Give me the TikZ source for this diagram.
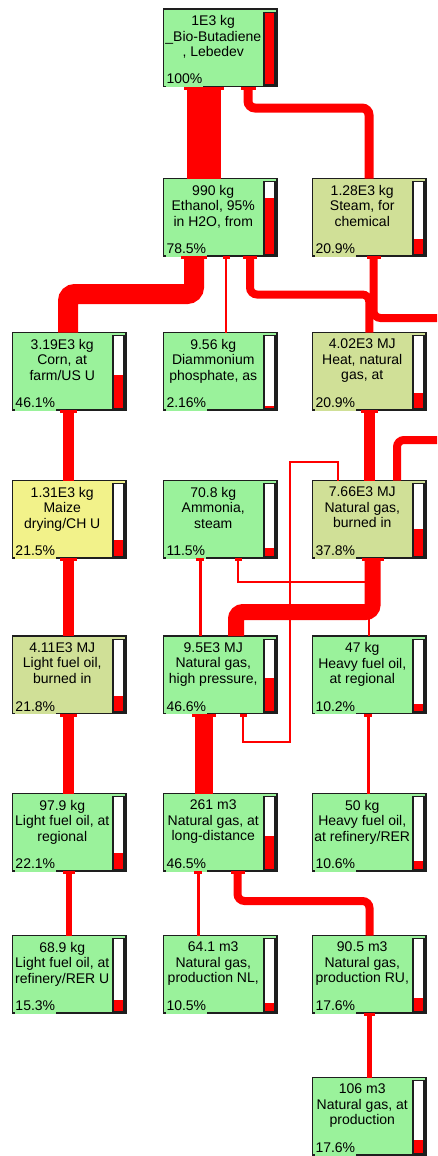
\documentclass[tikz,border=0pt]{standalone}
\usepackage{fontspec}
\setmainfont{Liberation Sans}
\usetikzlibrary{arrows.meta}
\definecolor{bgreen}{RGB}{154,242,155}
\definecolor{btan}{RGB}{208,224,151}
\definecolor{byellow}{RGB}{242,242,138}
\definecolor{frame}{RGB}{30,30,30}
\tikzset{
 pbox/.style={draw=frame, line width=1.6pt, minimum width=113.5pt, minimum height=77.5pt, inner sep=0pt, outer sep=0pt},
 ptext/.style={font=\fontsize{14}{15.5}\selectfont, align=center, inner sep=0pt, text=black},
 ppct/.style={font=\fontsize{14}{15.5}\selectfont, inner xsep=1pt, inner ysep=0pt, text depth=3.3pt, anchor=base west, text=black},
 fl/.style={draw=red, line width=#1pt, rounded corners=7pt, -{Rectangle[length=3pt, width=6pt 1, line width=0pt]}},
 tfl/.style={draw=red, line width=#1pt, -{Rectangle[length=3pt, width=5pt 1, line width=0pt]}},
}
\newcommand\procbox[7]{%
  \node[pbox, fill=#4] (#1) at (#2,#3) {};
  \draw[frame, line width=1.3pt, fill=white] ([xshift=-13pt,yshift=-3.2pt]#1.north east) rectangle ([xshift=-2pt,yshift=1.6pt]#1.south east);
  \fill[red] ([xshift=-12.35pt,yshift=2.25pt]#1.south east) rectangle ++(9.7,-0.714*#5);
  \node[ptext, anchor=north] at ([xshift=-7pt,yshift=-6.5pt]#1.north) {#6};
  \node[ppct, fill=#4] at ([xshift=1.8pt,yshift=2.5pt]#1.south west) {#7};
}
\begin{document}
\begin{tikzpicture}[x=1pt, y=-1pt]
\fill[white] (0,0) rectangle (437,1156);
\useasboundingbox (0,0) rectangle (437,1156);
% row 1
\procbox{but}{220.25}{47.75}{bgreen}{100}{1E3 kg\\\_Bio-Butadiene\\, Lebedev}{100\%}
% row 2
\procbox{eth}{220.25}{217.25}{bgreen}{78.5}{990 kg\\Ethanol, 95\%\\in H2O, from}{78.5\%}
\procbox{steam}{369.25}{217.25}{btan}{20.9}{1.28E3 kg\\Steam, for\\chemical}{20.9\%}
% row 3
\procbox{corn}{69.25}{371.25}{bgreen}{46.1}{3.19E3 kg\\Corn, at\\farm/US U}{46.1\%}
\procbox{dap}{220.25}{371.25}{bgreen}{2.16}{9.56 kg\\Diammonium\\phosphate, as}{2.16\%}
\procbox{heat}{369.25}{371.25}{btan}{20.9}{4.02E3 MJ\\Heat, natural\\gas, at}{20.9\%}
% row 4
\procbox{maize}{69.25}{519.25}{byellow}{21.5}{1.31E3 kg\\Maize\\drying/CH U}{21.5\%}
\procbox{amm}{220.25}{519.25}{bgreen}{11.5}{70.8 kg\\Ammonia,\\steam}{11.5\%}
\procbox{ngb}{369.25}{519.25}{btan}{37.8}{7.66E3 MJ\\Natural gas,\\burned in}{37.8\%}
% row 5
\procbox{lfob}{69.25}{674.75}{btan}{21.8}{4.11E3 MJ\\Light fuel oil,\\burned in}{21.8\%}
\procbox{nghp}{220.25}{674.75}{bgreen}{46.6}{9.5E3 MJ\\Natural gas,\\high pressure,}{46.6\%}
\procbox{hfo}{369.25}{674.75}{bgreen}{10.2}{47 kg\\Heavy fuel oil,\\at regional}{10.2\%}
% row 6
\procbox{lfor}{69.25}{832.25}{bgreen}{22.1}{97.9 kg\\Light fuel oil, at\\regional}{22.1\%}
\procbox{ngld}{220.25}{832.25}{bgreen}{46.5}{261 m3\\Natural gas, at\\long-distance}{46.5\%}
\procbox{hfor}{369.25}{832.25}{bgreen}{10.6}{50 kg\\Heavy fuel oil,\\at refinery/RER}{10.6\%}
% row 7
\procbox{lforef}{69.25}{974.25}{bgreen}{15.3}{68.9 kg\\Light fuel oil, at\\refinery/RER U}{15.3\%}
\procbox{ngnl}{220.25}{974.25}{bgreen}{10.5}{64.1 m3\\Natural gas,\\production NL,}{10.5\%}
\procbox{ngru}{369.25}{974.25}{bgreen}{17.6}{90.5 m3\\Natural gas,\\production RU,}{17.6\%}
% row 8
\procbox{ngprod}{369.25}{1116.25}{bgreen}{17.6}{106 m3\\Natural gas, at\\production}{17.6\%}
% off-picture ends
\coordinate (offA) at (437,318);
\coordinate (offB) at (437,440);
% connectors
\draw[fl=34] ([xshift=-16.25pt]eth.north) -- ([xshift=-16.25pt]but.south);
\draw[fl=9] ([xshift=-0.25pt]steam.north) -- ++(0,-70.5) -| ([xshift=27.75pt]but.south);
\draw[fl=20] ([xshift=-1.25pt]corn.north) -- ++(0,-38.5) -| ([xshift=-26.25pt]eth.south);
\draw[tfl=2] ([xshift=5.75pt]dap.north) -- ([xshift=5.75pt]eth.south);
\draw[fl=8] (heat.north) -- ++(0,-38) -| ([xshift=29.75pt]eth.south);
\draw[fl=8] (offA) -| ([xshift=4.25pt]steam.south);
\draw[fl=11] ([xshift=0.5pt]ngb.north) -- ([xshift=0.5pt]heat.south);
\draw[draw=red, line width=8pt, rounded corners=7pt] ([xshift=27.75pt]ngb.north) |- (offB);
\draw[tfl=2] ([xshift=-31.75pt]ngb.north) -- ++(0,-18.5) -- ++(-47.5,0) -- ++(0,280) -| ([xshift=22.75pt]nghp.south);
\draw[fl=16] ([xshift=15.75pt]nghp.north) -- ++(0,-24) -| ([xshift=3.25pt]ngb.south);
\draw[tfl=3] ([xshift=-20.25pt]nghp.north) -- ([xshift=-20.25pt]amm.south);
\draw[tfl=2] ([xshift=-0.75pt]hfo.north) -- ++(0,-54) -| ([xshift=17.75pt]amm.south);
\draw[fl=11] ([xshift=-1.25pt]maize.north) -- ([xshift=-1.25pt]corn.south);
\draw[fl=11] ([xshift=-1.25pt]lfob.north) -- ([xshift=-1.25pt]maize.south);
\draw[fl=11] ([xshift=-1.25pt]lfor.north) -- ([xshift=-1.25pt]lfob.south);
\draw[fl=6] ([xshift=-0.75pt]lforef.north) -- ([xshift=-0.75pt]lfor.south);
\draw[fl=18] ([xshift=-16.25pt]ngld.north) -- ([xshift=-16.25pt]nghp.south);
\draw[tfl=3] ([xshift=-1.25pt]hfor.north) -- ([xshift=-1.25pt]hfo.south);
\draw[tfl=3] ([xshift=-22.25pt]ngnl.north) -- ([xshift=-22.25pt]ngld.south);
\draw[fl=8] ([xshift=0.25pt]ngru.north) -- ++(0,-34.5) -| ([xshift=17.25pt]ngld.south);
\draw[fl=5] (ngprod.north) -- (ngru.south);
\end{tikzpicture}
\end{document}
